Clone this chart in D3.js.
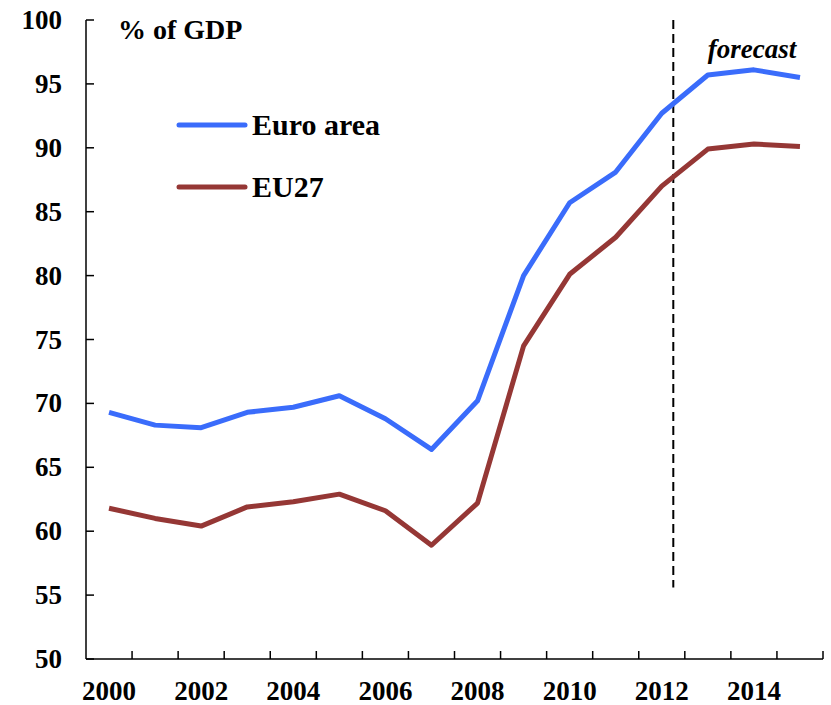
<!DOCTYPE html>
<html>
<head>
<meta charset="utf-8">
<script src="https://cdn.jsdelivr.net/npm/d3@7/dist/d3.min.js"></script>
<style>
  html, body { margin: 0; padding: 0; background: #fff; }
  svg { display: block; font-family: "Liberation Serif", "Times New Roman", serif; }
</style>
</head>
<body>
<div id="chart"></div>
<script>
/* --- data ----------------------------------------------------------- */
const years = d3.range(2000, 2016);
const euroArea = [69.3, 68.3, 68.1, 69.3, 69.7, 70.6, 68.8, 66.4, 70.2, 80.0, 85.7, 88.1, 92.7, 95.7, 96.1, 95.5];
const eu27     = [61.8, 61.0, 60.4, 61.9, 62.3, 62.9, 61.6, 58.9, 62.2, 74.5, 80.1, 83.0, 87.0, 89.9, 90.3, 90.1];
const yTicks = [50, 55, 60, 65, 70, 75, 80, 85, 90, 95, 100];
const xLabels = [2000, 2002, 2004, 2006, 2008, 2010, 2012, 2014];
const forecastYear = 2012.25;
const forecastRange = [55.6, 100];

const series = [
  { name: 'Euro area', values: euroArea, color: '#3a6cfb' },
  { name: 'EU27',      values: eu27,     color: '#953735' }
];

/* --- layout --------------------------------------------------------- */
const W = 831, H = 705;
const m = { left: 86, right: 8, top: 20, bottom: 46 };

const svg = d3.select('#chart').append('svg').attr('width', W).attr('height', H);

const x = d3.scaleBand().domain(years).range([m.left, W - m.right]);
const xc = function (yr) { return x(years[0]) + (yr - years[0] + 0.5) * x.bandwidth(); };
const y = d3.scaleLinear().domain([50, 100]).range([H - m.bottom, m.top]);

/* --- axes ----------------------------------------------------------- */
const axisG = svg.append('g').attr('stroke', '#000').attr('stroke-width', 1.5);
axisG.append('line')
  .attr('x1', m.left).attr('x2', m.left)
  .attr('y1', y(100)).attr('y2', y(50));
axisG.append('line')
  .attr('x1', m.left).attr('x2', W - m.right)
  .attr('y1', y(50)).attr('y2', y(50));

/* y ticks point inward */
axisG.selectAll('.yt').data(yTicks).join('line')
  .attr('x1', m.left).attr('x2', m.left + 8)
  .attr('y1', function (d) { return y(d); }).attr('y2', function (d) { return y(d); });

/* x ticks at band boundaries, pointing up */
axisG.selectAll('.xt').data(years.slice(1).concat(['end'])).join('line')
  .attr('x1', function (d, i) { return m.left + (i + 1) * x.bandwidth(); })
  .attr('x2', function (d, i) { return m.left + (i + 1) * x.bandwidth(); })
  .attr('y1', y(50)).attr('y2', y(50) - 8);

svg.append('g').selectAll('text').data(yTicks).join('text')
  .attr('x', 62).attr('y', function (d) { return y(d) + 9; })
  .attr('text-anchor', 'end')
  .attr('font-size', 27).attr('font-weight', 'bold')
  .text(function (d) { return d; });

svg.append('g').selectAll('text').data(xLabels).join('text')
  .attr('x', function (d) { return xc(d); }).attr('y', 700)
  .attr('text-anchor', 'middle')
  .attr('font-size', 27).attr('font-weight', 'bold')
  .text(function (d) { return d; });

svg.append('text')
  .attr('x', 118).attr('y', 39)
  .attr('font-size', 28).attr('font-weight', 'bold')
  .text('% of GDP');

/* --- forecast marker ------------------------------------------------ */
svg.append('line')
  .attr('x1', xc(forecastYear)).attr('x2', xc(forecastYear))
  .attr('y1', y(forecastRange[1])).attr('y2', y(forecastRange[0]))
  .attr('stroke', '#000').attr('stroke-width', 2)
  .attr('stroke-dasharray', '9 5');

svg.append('text')
  .attr('x', 752).attr('y', 58)
  .attr('text-anchor', 'middle')
  .attr('font-size', 27).attr('font-weight', 'bold').attr('font-style', 'italic')
  .text('forecast');

/* --- lines ---------------------------------------------------------- */
const line = d3.line()
  .x(function (d, i) { return xc(years[i]); })
  .y(function (d) { return y(d); });

svg.append('g').selectAll('path').data(series).join('path')
  .attr('d', function (s) { return line(s.values); })
  .attr('fill', 'none')
  .attr('stroke', function (s) { return s.color; })
  .attr('stroke-width', 5)
  .attr('stroke-linejoin', 'round');

/* --- legend --------------------------------------------------------- */
const leg = svg.append('g').selectAll('g').data(series).join('g')
  .attr('transform', function (s, i) { return 'translate(0,' + (125 + i * 62) + ')'; });
leg.append('line')
  .attr('x1', 179).attr('x2', 245)
  .attr('stroke', function (s) { return s.color; })
  .attr('stroke-width', 5).attr('stroke-linecap', 'round');
leg.append('text')
  .attr('x', 252).attr('y', 10)
  .attr('font-size', 30).attr('font-weight', 'bold')
  .text(function (s) { return s.name; });
</script>
</body>
</html>
